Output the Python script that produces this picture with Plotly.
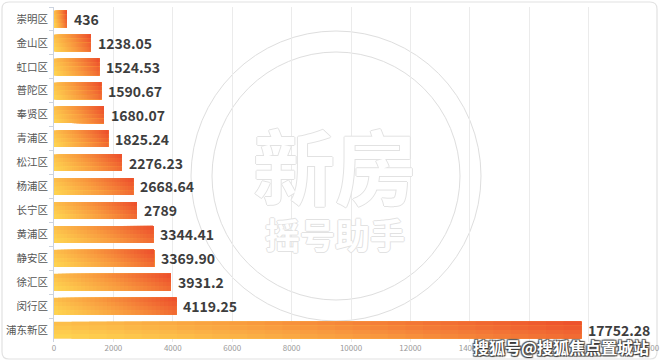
import plotly.graph_objects as go

# ---- data ----
districts = ["崇明区", "金山区", "虹口区", "普陀区", "奉贤区", "青浦区", "松江区",
             "杨浦区", "长宁区", "黄浦区", "静安区", "徐汇区", "闵行区", "浦东新区"]
values = [436, 1238.05, 1524.53, 1590.67, 1680.07, 1825.24, 2276.23,
          2668.64, 2789, 3344.41, 3369.90, 3931.2, 4119.25, 17752.28]
value_labels = ["436", "1238.05", "1524.53", "1590.67", "1680.07", "1825.24", "2276.23",
                "2668.64", "2789", "3344.41", "3369.90", "3931.2", "4119.25", "17752.28"]
x_ticks = list(range(0, 20001, 2000))

FONT = "Noto Sans CJK SC, Noto Sans, sans-serif"
W, H = 660, 362
ML, MR, MT, MB = 54, 12, 7, 20
PW, PH = W - ML - MR, H - MT - MB


def px(x):
    return (x - ML) / PW


def py(y):
    return (H - MB - y) / PH


YEL = (255, 216, 82)
ORA = (248, 152, 62)
RED = (236, 76, 44)


def lerp(a, b, f):
    return tuple(a[k] + (b[k] - a[k]) * f for k in range(3))


def grad(t, s):
    u = 0.78 * t + 0.22 * (1 - s)
    u = max(0.0, min(1.0, u))
    c = lerp(YEL, ORA, u / 0.5) if u < 0.5 else lerp(ORA, RED, (u - 0.5) / 0.5)
    return "rgb(%d,%d,%d)" % tuple(int(round(v)) for v in c)


fig = go.Figure()

N = 30      # horizontal gradient steps
M = 4       # vertical gradient steps
BW = 0.7    # bar thickness (category units)
# each piece runs from its own start to the bar's end/bottom, later pieces cover
# earlier ones, so no seams appear between the gradient steps
for j in range(M):
    s = (j + 0.5) / M
    for i in range(N):
        t = (i + 0.5) / N
        fig.add_trace(go.Bar(
            y=districts,
            x=[v * (N - i) / N for v in values],
            base=[v * i / N for v in values],
            orientation="h",
            width=BW * (M - j) / M,
            offset=-BW / 2 + j * BW / M,
            marker=dict(color=grad(t, s), line=dict(width=0)),
            hoverinfo="skip",
            showlegend=False,
        ))

annotations = []
for d, v, lab in zip(districts, values, value_labels):
    annotations.append(dict(
        x=v, y=d, xref="x", yref="y", text=lab, showarrow=False,
        xanchor="left", yanchor="middle", xshift=5,
        font=dict(family=FONT, size=14, color="#3d3d3d", weight="bold"),
    ))

wm_shadow = "1px 0 #e2e2e2, -1px 0 #e2e2e2, 0 1px #e2e2e2, 0 -1px #e2e2e2"
annotations.append(dict(
    x=px(335), y=py(163), xref="paper", yref="paper", text="新房", showarrow=False,
    xanchor="center", yanchor="middle",
    font=dict(family=FONT, size=82, color="#ffffff", weight="bold", shadow=wm_shadow),
))
annotations.append(dict(
    x=px(335), y=py(233), xref="paper", yref="paper", text="摇号助手", showarrow=False,
    xanchor="center", yanchor="middle",
    font=dict(family=FONT, size=35, color="#ffffff", weight="bold", shadow=wm_shadow),
))
annotations.append(dict(
    x=px(561), y=py(347), xref="paper", yref="paper", text="搜狐号@搜狐焦点置城站",
    showarrow=False, xanchor="center", yanchor="middle",
    font=dict(family=FONT, size=16, color="#ffffff", weight="bold",
              shadow="1px 1px 1px #333, -1px -1px 1px #555, 1px -1px 1px #555, -1px 1px 1px #555"),
))

shapes = []
cx, cy = 336, 176
for r in (145, 124):
    shapes.append(dict(
        type="circle", xref="paper", yref="paper",
        x0=px(cx - r), x1=px(cx + r), y0=py(cy + r), y1=py(cy - r),
        line=dict(color="#dedede", width=1), layer="below",
    ))

# rounded outer border
x0, x1, y0, y1, rr = 2, 657, 2, 359, 7
pts = [
    ("M", x0 + rr, y0), ("L", x1 - rr, y0), ("Q", x1, y0, x1, y0 + rr),
    ("L", x1, y1 - rr), ("Q", x1, y1, x1 - rr, y1), ("L", x0 + rr, y1),
    ("Q", x0, y1, x0, y1 - rr), ("L", x0, y0 + rr), ("Q", x0, y0, x0 + rr, y0),
]
path = ""
for p in pts:
    cmd = p[0]
    coords = p[1:]
    seg = []
    for k in range(0, len(coords), 2):
        seg.append("%.5f,%.5f" % (px(coords[k]), py(coords[k + 1])))
    path += cmd + " ".join(seg) + " "
path += "Z"
shapes.append(dict(type="path", xref="paper", yref="paper", path=path,
                   line=dict(color="#e2e2e2", width=1.2), layer="below"))

fig.update_layout(
    width=W, height=H,
    margin=dict(l=ML, r=MR, t=MT, b=MB, pad=0, autoexpand=False),
    paper_bgcolor="#ffffff", plot_bgcolor="rgba(0,0,0,0)",
    barmode="overlay",
    font=dict(family=FONT),
    showlegend=False,
    annotations=annotations,
    shapes=shapes,
    xaxis=dict(
        range=[0, 20000], tickvals=x_ticks, ticktext=[str(v) for v in x_ticks],
        tickfont=dict(size=8, color="#9a9a9a", family=FONT),
        showgrid=True, gridcolor="#ebebeb", gridwidth=1,
        zeroline=False, showline=False, ticks="", automargin=False,
    ),
    yaxis=dict(
        type="category", categoryorder="array", categoryarray=districts,
        autorange="reversed", automargin=False,
        tickfont=dict(size=10.5, color="#555555", family=FONT),
        showgrid=False, zeroline=False,
        showline=True, linecolor="#ccd3df", linewidth=1,
        ticks="outside", ticklen=4, tickcolor="#ccd3df", tickson="boundaries",
        ticklabelstandoff=3,
    ),
)

fig.write_html("out.html", config={"displayModeBar": False},
               post_script="document.body.style.margin='0px';document.body.style.overflow='hidden';")
